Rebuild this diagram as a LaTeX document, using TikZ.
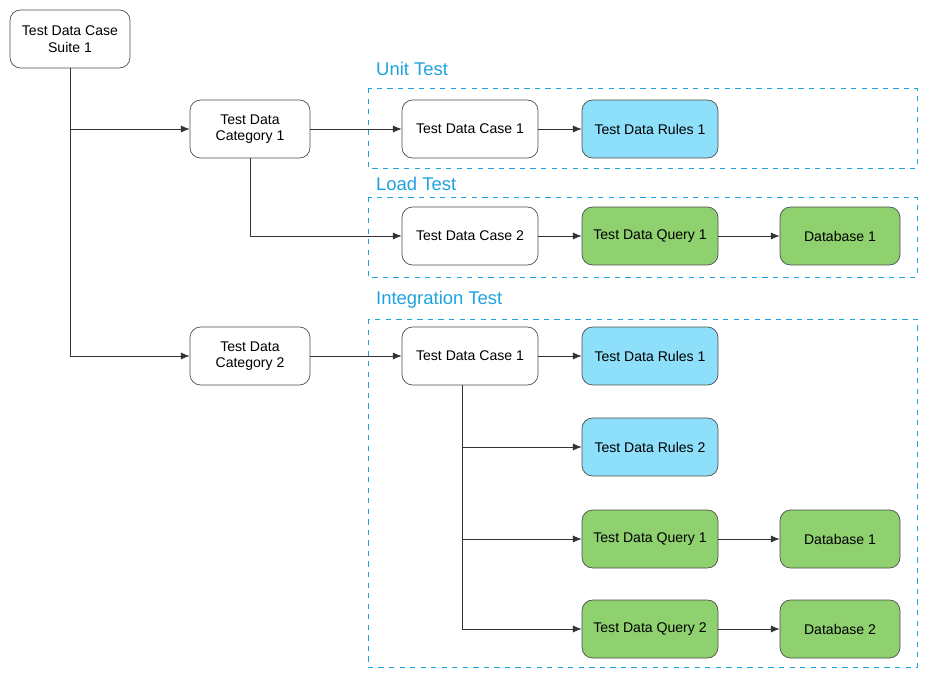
\documentclass[tikz,border=0pt]{standalone}
\usepackage{fontspec}
\setmainfont{Liberation Sans}
\usetikzlibrary{arrows.meta}
\definecolor{rulesblue}{HTML}{8EDFFA}
\definecolor{querygreen}{HTML}{8FD16F}
\definecolor{groupblue}{HTML}{1FA3E0}
\tikzstyle{box}=[rectangle,rounded corners=6pt,draw=black!70,fill=white,minimum width=2.72cm,minimum height=1.16cm,align=center,font=\fontsize{8}{9.5}\selectfont,inner sep=1pt]
\tikzstyle{small}=[box,minimum width=2.4cm]
\tikzstyle{rules}=[box,fill=rulesblue]
\tikzstyle{query}=[box,fill=querygreen]
\tikzstyle{group}=[draw=groupblue,dashed,thin]
\tikzstyle{grouplabel}=[text=groupblue,font=\fontsize{10.5}{12}\selectfont,anchor=west]
\tikzstyle{link}=[-{Latex[length=5pt,width=4pt]},black!80]

\begin{document}
\begin{tikzpicture}[x=0.02cm,y=-0.02cm]
	\useasboundingbox (0,0) rectangle (925,675);

	% groups
	\draw[group] (368,88) rectangle (917,168);
	\draw[group] (368,197) rectangle (917,277);
	\draw[group] (368,319) rectangle (917,667);
	\node[grouplabel] (unitlbl) at (370,69) {Unit Test};
	\node[grouplabel] (loadlbl) at (370,184) {Load Test};
	\node[grouplabel] (intlbl) at (370,300) {Integration Test};

	% left column
	\node[small] (suite) at (70,39) {Test Data Case\\Suite 1};
	\node[small] (cat1) at (250,129) {Test Data\\Category 1};
	\node[small] (cat2) at (250,356) {Test Data\\Category 2};

	% unit test
	\node[box] (ucase) at (470,129) {Test Data Case 1};
	\node[rules] (urules) at (650,129) {Test Data Rules 1};

	% load test
	\node[box] (lcase) at (470,236) {Test Data Case 2};
	\node[query] (lquery) at (650,236) {Test Data Query 1};
	\node[query, minimum width=2.4cm] (ldb) at (840,236) {Database 1};

	% integration test
	\node[box] (icase) at (470,356) {Test Data Case 1};
	\node[rules] (irules1) at (650,356) {Test Data Rules 1};
	\node[rules] (irules2) at (650,447) {Test Data Rules 2};
	\node[query] (iquery1) at (650,539) {Test Data Query 1};
	\node[query, minimum width=2.4cm] (idb1) at (840,539) {Database 1};
	\node[query] (iquery2) at (650,629) {Test Data Query 2};
	\node[query, minimum width=2.4cm] (idb2) at (840,629) {Database 2};

	% connectors
	\draw[link] (suite) |- (cat1);
	\draw[link] (suite) |- (cat2);
	\draw[link] (cat1) -- (ucase);
	\draw[link] (cat1) |- (lcase);
	\draw[link] (ucase) -- (urules);
	\draw[link] (lcase) -- (lquery);
	\draw[link] (lquery) -- (ldb);
	\draw[link] (cat2) -- (icase);
	\draw[link] (icase) -- (irules1);
	\draw[link] ([xshift=-0.16cm]icase.south) |- (irules2);
	\draw[link] ([xshift=-0.16cm]icase.south) |- (iquery1);
	\draw[link] ([xshift=-0.16cm]icase.south) |- (iquery2);
	\draw[link] (iquery1) -- (idb1);
	\draw[link] (iquery2) -- (idb2);
\end{tikzpicture}
\end{document}
